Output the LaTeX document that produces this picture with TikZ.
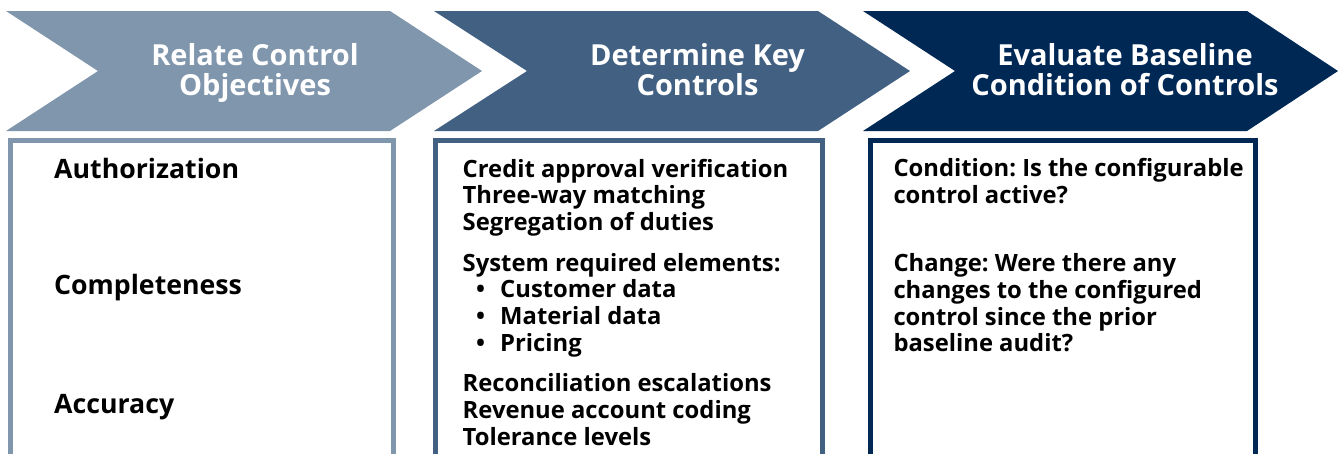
\documentclass[tikz,border=0pt]{standalone}
\usepackage{fontspec}
\setmainfont{Open Sans}
\definecolor{cA}{RGB}{128,150,173}
\definecolor{cB}{RGB}{66,96,130}
\definecolor{cC}{RGB}{0,40,85}
\frenchspacing
\begin{document}
\begin{tikzpicture}[x=1pt,y=-1pt,
 title/.style={font=\bfseries\fontsize{29}{30}\selectfont, text=white, inner sep=0, anchor=base},
 lead/.style={font=\bfseries\fontsize{26.7}{28}\selectfont, inner sep=0, anchor=base west},
 item/.style={font=\bfseries\fontsize{23.8}{26}\selectfont, inner sep=0, anchor=base west},
 panel/.style={line width=5pt}]
\useasboundingbox (0,0) rectangle (1340,453);
\clip (0,0) rectangle (1340,453);
% chevrons
\fill[cA] (6,11) -- (390,11) -- (482,71) -- (390,131) -- (6,131) -- (98,71) -- cycle;
\fill[cB] (434,11) -- (818,11) -- (910,71) -- (818,131) -- (434,131) -- (527,71) -- cycle;
\fill[cC] (863,11) -- (1247,11) -- (1338,71) -- (1247,131) -- (863,131) -- (955,71) -- cycle;
\node[title] (t1a) at (255,65.5) {Relate Control};
\node[title] (t1b) at (255,95.5) {Objectives};
\node[title] (t2a) at (697.5,65.5) {Determine Key};
\node[title] (t2b) at (697.5,95.5) {Controls};
\node[title] (t3a) at (1125,65.5) {Evaluate Baseline};
\node[title] (t3b) at (1125,95.5) {Condition of Controls};
% panels
\draw[panel, draw=cA] (10.5,470) -- (10.5,140.5) -- (393.5,140.5) -- (393.5,470);
\draw[panel, draw=cB] (435.5,470) -- (435.5,140.5) -- (822,140.5) -- (822,470);
\draw[panel, draw=cC] (870,470) -- (870,140.5) -- (1255.5,140.5) -- (1255.5,470);
% panel 1
\node[lead] (p1a) at (54,178) {Authorization};
\node[lead] (p1b) at (54,294) {Completeness};
\node[lead] (p1c) at (54,413.3) {Accuracy};
% panel 2
\node[item] (p2a) at (462.5,177) {Credit approval verification};
\node[item] (p2b) at (462.5,203.5) {Three-way matching};
\node[item] (p2c) at (462.5,230) {Segregation of duties};
\node[item] (p2d) at (462.5,271) {System required elements:};
\node[item] (b1) at (476,297.7) {•};
\node[item] (p2e) at (500,297.7) {Customer data};
\node[item] (b2) at (476,324.5) {•};
\node[item] (p2f) at (500,324.5) {Material data};
\node[item] (b3) at (476,351) {•};
\node[item] (p2g) at (500,351) {Pricing};
\node[item] (p2h) at (462.5,391.5) {Reconciliation escalations};
\node[item] (p2i) at (462.5,418) {Revenue account coding};
\node[item] (p2j) at (462.5,445) {Tolerance levels};
% panel 3
\node[item] (p3a) at (893.3,176.7) {Condition: Is the configurable};
\node[item] (p3b) at (893.3,203.3) {control active?};
\node[item] (p3c) at (893.3,271.5) {Change: Were there any};
\node[item] (p3d) at (893.3,298.2) {changes to the configured};
\node[item] (p3e) at (893.3,325) {control since the prior};
\node[item] (p3f) at (893.3,351.7) {baseline audit?};
\end{tikzpicture}
\end{document}
